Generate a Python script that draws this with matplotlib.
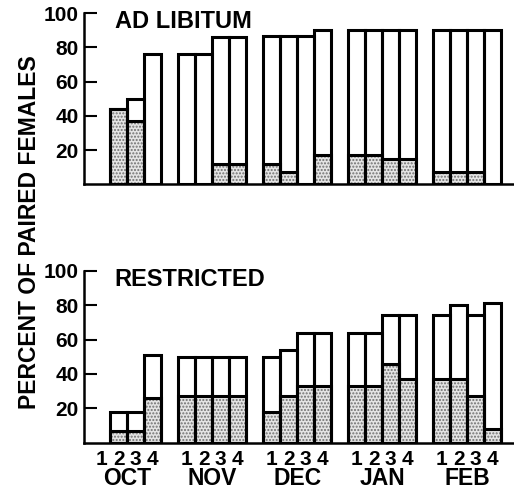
import numpy as np
import matplotlib.pyplot as plt

plt.rcParams['font.family'] = ['Liberation Sans', 'DejaVu Sans']
plt.rcParams['font.weight'] = 'bold'
plt.rcParams['hatch.linewidth'] = 1.0

months = ["OCT", "NOV", "DEC", "JAN", "FEB"]
weeks = ["1", "2", "3", "4"]

# percent paired (total bar) and stippled part, week by week, OCT 1 .. FEB 4
# None = no bar that week
adlib_total = [None, 44, 50, 76,
               76, 76, 86, 86,
               87, 87, 87, 90,
               90, 90, 90, 90,
               90, 90, 90, 90]
adlib_stip = [None, 44, 37, 0,
              0, 0, 12, 12,
              12, 7, 0, 17,
              17, 17, 15, 15,
              7, 7, 7, 0]
restr_total = [None, 18, 18, 51,
               50, 50, 50, 50,
               50, 54, 64, 64,
               64, 64, 74, 74,
               74, 80, 74, 81]
restr_stip = [None, 7, 7, 26,
              27, 27, 27, 27,
              18, 27, 33, 33,
              33, 33, 46, 37,
              37, 37, 27, 8]

pos = np.array([m * 5 + w for m in range(len(months)) for w in range(4)])

fig = plt.figure(figsize=(5.14, 4.9), dpi=100)
ax1 = fig.add_axes([0.1634, 0.6239, 0.8346, 0.349])
ax2 = fig.add_axes([0.1634, 0.0965, 0.8346, 0.351])


def draw(ax, total, stip, title):
    for x, t, s in zip(pos, total, stip):
        if t is None:
            continue
        if s > 0:
            ax.bar(x, s, width=1, color='#e4e4e4', hatch='.....',
                   edgecolor='#707070', linewidth=0)
            ax.bar(x, s, width=1, fill=False, edgecolor='black', linewidth=2.2)
        ax.bar(x, t, width=1, fill=False, edgecolor='black', linewidth=2.2)
    ax.set_xlim(-1.05, 24.2)
    ax.set_ylim(0, 100)
    ax.spines['top'].set_visible(False)
    ax.spines['right'].set_visible(False)
    ax.spines['left'].set_linewidth(1.8)
    ax.spines['bottom'].set_linewidth(1.8)
    ax.set_yticks([20, 40, 60, 80, 100])
    ax.tick_params(axis='y', direction='in', length=9, width=1.5,
                   labelsize=15, pad=4)
    ax.text(0.75, 95, title, fontsize=17, fontweight='bold', va='center')


draw(ax1, adlib_total, adlib_stip, "AD LIBITUM")
draw(ax2, restr_total, restr_stip, "RESTRICTED")

ax1.set_xticks([])
ax2.set_xticks(pos)
ax2.set_xticklabels(weeks * len(months))
ax2.tick_params(axis='x', length=0, labelsize=15, pad=5)
for m, name in enumerate(months):
    ax2.text(m * 5 + 1.5, -0.21, name, transform=ax2.get_xaxis_transform(),
             ha='center', va='center', fontsize=16.5, fontweight='bold')

fig.text(0.058, 0.527, "PERCENT OF PAIRED FEMALES", rotation=90,
         ha='center', va='center', fontsize=16.5, fontweight='bold')

fig.savefig("out.png", dpi=100)
